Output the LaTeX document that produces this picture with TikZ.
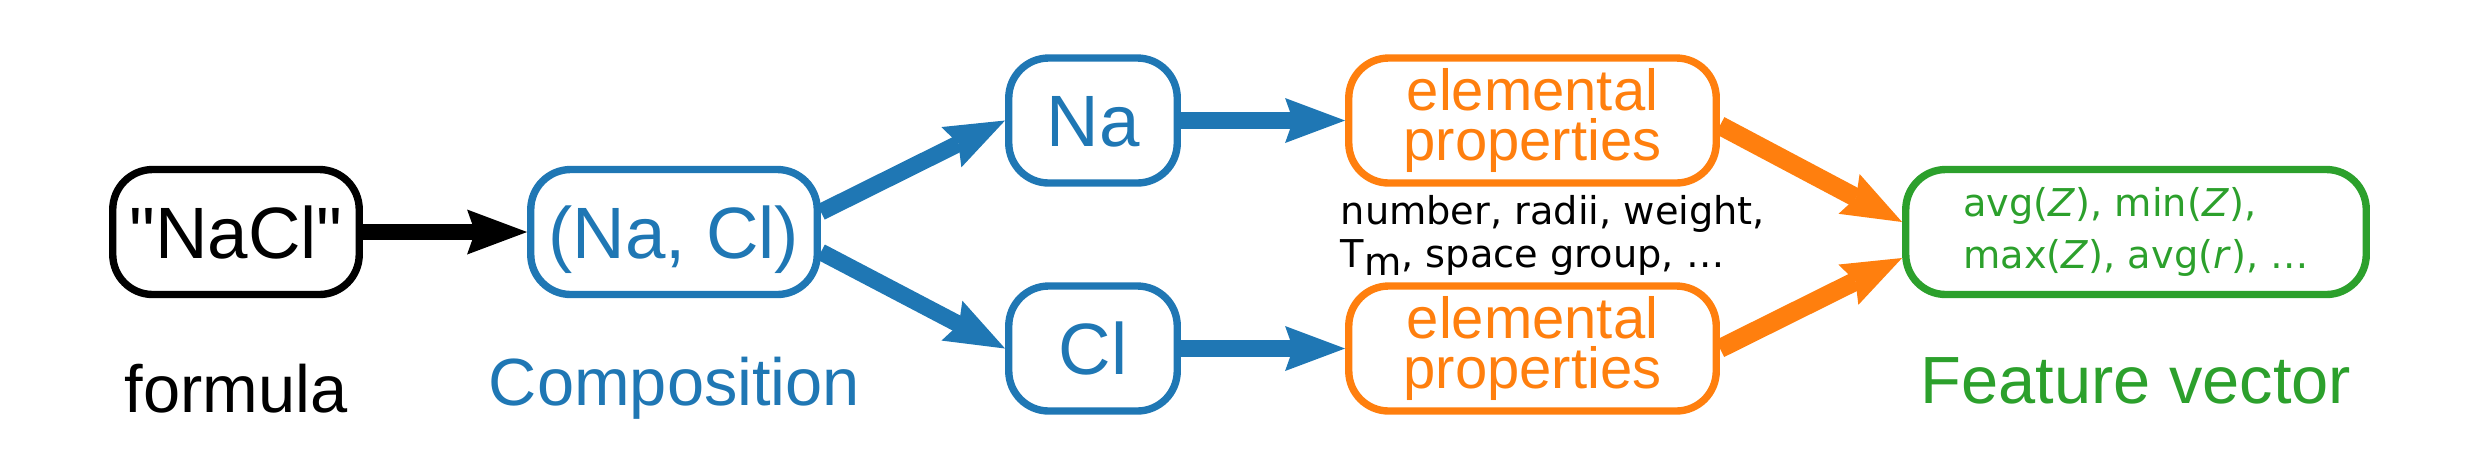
\documentclass[tikz,border=0pt]{standalone}
\usepackage{fontspec}
\setmainfont{Liberation Sans}
\newfontfamily\arial{Liberation Sans}
\newfontfamily\dejavu{DejaVu Sans}
\usepackage{xcolor}
\usetikzlibrary{arrows.meta}
\usetikzlibrary{positioning}
\definecolor{tabblue}{HTML}{1F77B4}
\definecolor{taborange}{HTML}{FF7F0E}
\definecolor{tabgreen}{HTML}{2CA02C}
\tikzset{
  box/.style={draw, line width=2.1pt, rounded corners=0.4cm, minimum height=1.25cm, inner sep=0pt},
  onebox/.style={box, text height=0.52cm, text depth=0cm, font=\arial\fontsize{20.7}{24}\selectfont},
  propbox/.style={box, taborange, minimum width=3.675cm, align=center, font=\fontsize{16.5}{14}\selectfont},
  flow/.style={line width=4.8pt, -{Stealth[length=0.6cm, width=0.45cm, inset=0.08cm, line width=0pt]}},
  caption/.style={anchor=base, font=\fontsize{19}{23}\selectfont},
}

\begin{document}
\begin{tikzpicture}
            \useasboundingbox (0,0) rectangle (24.8,4.72);

            \node[onebox, minimum width=2.465cm] (formula) at (2.36,2.40) {"NaCl"};
            \node[onebox, tabblue, minimum width=2.865cm] (comp) at (6.74,2.40) {(Na, Cl)};
            \node[onebox, tabblue, minimum width=1.685cm] (na) at (10.93,3.515) {Na};
            \node[onebox, tabblue, minimum width=1.685cm] (cl) at (10.93,1.235) {Cl};
            \node[propbox] (propna) at (15.325,3.515) {elemental\\properties};
            \node[propbox] (propcl) at (15.325,1.235) {elemental\\properties};
            \node[box, tabgreen, minimum width=4.605cm, align=left, font=\dejavu\fontsize{10.9}{14.8}\selectfont] (feat) at (21.36,2.40)
                {avg(\textit{Z}), min(\textit{Z}),\\max(\textit{Z}), avg(\textit{r}), …};

            \node[anchor=west, inner sep=0pt, align=left, font=\dejavu\fontsize{10.9}{12.2}\selectfont] (plist) at (13.40,2.365)
                {number, radii, weight,\\T\raisebox{-0.08cm}{m}, space group, …};

            \node[caption] (lformula) at (2.36,0.60) {formula};
            \node[caption, tabblue] (lcomp) at (6.745,0.67) {Composition};
            \node[caption, tabgreen] (lfeat) at (21.36,0.69) {Feature vector};

            \draw[flow] (formula) -- (comp);
            \draw[flow, tabblue] ([yshift=0.2cm]comp.east) -- (na.west);
            \draw[flow, tabblue] ([yshift=-0.2cm]comp.east) -- (cl.west);
            \draw[flow, tabblue] (na) -- (propna);
            \draw[flow, tabblue] (cl) -- (propcl);
            \draw[flow, taborange, line width=5.4pt] ([yshift=-0.05cm]propna.east) -- ([yshift=0.1cm]feat.west);
            \draw[flow, taborange, line width=5.4pt] (propcl.east) -- ([yshift=-0.26cm]feat.west);
\end{tikzpicture}
\end{document}
